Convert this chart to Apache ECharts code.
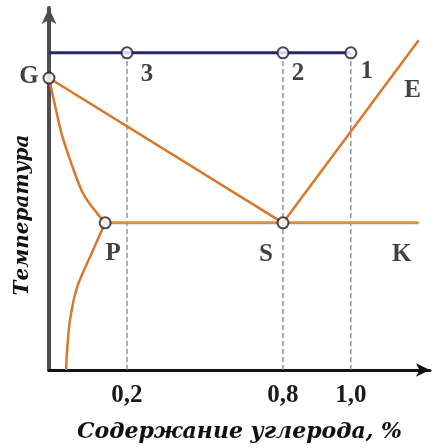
<!DOCTYPE html>
<html>
<head>
<meta charset="utf-8">
<script src="https://cdn.jsdelivr.net/npm/echarts@6/dist/echarts.min.js"></script>
<style>
  html, body { margin: 0; padding: 0; background: #fff; }
  #chart { width: 436px; height: 448px; }
</style>
</head>
<body>
<div id="chart"></div>
<script>
// Carbon content (%) and temperature (°C) of the steel corner of the Fe–C diagram
const tickCarbon = [0.2, 0.8, 1.0];

const pointNames = ['G', 'P', 'S'];
const pointCarbon = [0, 0.144, 0.8];
const pointTemp = [911, 727, 727];

const heatNames = ['3', '2', '1'];
const heatCarbon = [0.2, 0.8, 1.0];
const heatTemp = 943;

const gpCarbon = [0, 0.015, 0.033, 0.059, 0.090, 0.144];
const gpTemp = [911, 877, 839, 800, 762, 727];
const pqCarbon = [0.144, 0.110, 0.072, 0.054, 0.046, 0.044];
const pqTemp = [727, 689, 645, 604, 562, 540];
const gsCarbon = [0, 0.8];
const gsTemp = [911, 727];
const seCarbon = [0.8, 1.2];
const seTemp = [727, 959];
const pkCarbon = [0.144, 1.2];
const pkTemp = [727, 727];

const tempMin = 540;
const tempMax = 1000;

// The carbon axis is schematic: stretched piecewise between these breakpoints
const scaleCarbon = [0, 0.2, 0.8, 1.0];
const scaleUnits = [0, 1, 3, 3.87];
const axisMaxUnits = 4.885;

function segIndex(arr, v) {
  for (let i = 0; i < arr.length - 2; i++) if (v <= arr[i + 1]) return i;
  return arr.length - 2;
}
function toAxis(c) {
  const i = segIndex(scaleCarbon, c);
  const t = (c - scaleCarbon[i]) / (scaleCarbon[i + 1] - scaleCarbon[i]);
  return scaleUnits[i] + t * (scaleUnits[i + 1] - scaleUnits[i]);
}
function fromAxis(u) {
  const i = segIndex(scaleUnits, u);
  const t = (u - scaleUnits[i]) / (scaleUnits[i + 1] - scaleUnits[i]);
  return scaleCarbon[i] + t * (scaleCarbon[i + 1] - scaleCarbon[i]);
}
const pts = (cs, ts) => cs.map((c, i) => [toAxis(c), Array.isArray(ts) ? ts[i] : ts]);

const ORANGE = '#d9772b';
const NAVY = '#232a6b';
const letterFont = { fontFamily: 'Liberation Serif', fontWeight: 'bold', fontSize: 25, color: '#111' };

function curve(data, extra) {
  return Object.assign({
    type: 'line', data, symbol: 'none', smooth: false, silent: true,
    lineStyle: { color: ORANGE, width: 2.5 }, z: 3
  }, extra || {});
}

function marker(name, c, t, off) {
  return {
    value: [toAxis(c), t],
    label: Object.assign({ show: true, formatter: name, position: 'inside', offset: off }, letterFont)
  };
}

const series = [];

// dashed verticals from the heating line down to the carbon axis
tickCarbon.forEach(c => {
  series.push({
    type: 'line', silent: true, symbol: 'none', z: 2,
    data: [[toAxis(c), tempMin], [toAxis(c), heatTemp]],
    lineStyle: { color: '#7a7a7a', width: 1.2, type: [5, 3] }
  });
});

series.push(curve(pts(gpCarbon, gpTemp), { smooth: 0.3 }));
series.push(curve(pts(pqCarbon, pqTemp), { smooth: 0.3 }));
series.push(curve(pts(gsCarbon, gsTemp)));
series.push(curve(pts(seCarbon, seTemp)));
series.push(curve(pts(pkCarbon, pkTemp), { lineStyle: { color: '#d98f3e', width: 3 } }));

// heating line with points 3, 2, 1
series.push({
  type: 'line', silent: true, symbol: 'none', z: 4,
  data: [[toAxis(0), heatTemp], [toAxis(heatCarbon[heatCarbon.length - 1]), heatTemp]],
  lineStyle: { color: NAVY, width: 3 }
});

const heatOffsets = [[20, 22], [15, 21], [16, 19]];
const pointOffsets = [[-20, -1], [8, 31], [-17, 32]];

series.push({
  type: 'scatter', silent: true, z: 6,
  symbol: 'circle', symbolSize: 11,
  itemStyle: { color: '#fff', borderColor: '#1c1c2e', borderWidth: 2 },
  data: heatNames.map((n, i) => marker(n, heatCarbon[i], heatTemp, heatOffsets[i]))
    .concat(pointNames.map((n, i) => marker(n, pointCarbon[i], pointTemp[i], pointOffsets[i])))
});

// names of the line ends E and K
series.push({
  type: 'scatter', silent: true, z: 6, symbolSize: 0,
  data: [
    marker('E', seCarbon[1], seTemp[1], [-6, 50]),
    marker('K', pkCarbon[1], pkTemp[1], [-17, 32])
  ]
});

const chart = echarts.init(document.getElementById('chart'), null, { renderer: 'canvas' });
chart.setOption({
  animation: false,
  backgroundColor: '#fff',
  grid: { left: 49, right: 6, top: 8, bottom: 78 },
  xAxis: {
    type: 'value', min: 0, max: axisMaxUnits,
    name: 'Содержание углерода, %',
    nameLocation: 'middle', nameGap: 51,
    nameTextStyle: { fontFamily: 'DejaVu Serif', fontStyle: 'italic', fontWeight: 'bold', fontSize: 22, color: '#111' },
    axisLine: { show: true, onZero: false, lineStyle: { color: '#111', width: 3 }, symbol: ['none', 'arrow'], symbolSize: [10, 14] },
    axisTick: { show: false },
    splitLine: { show: false },
    axisLabel: {
      customValues: tickCarbon.map(toAxis),
      margin: 13,
      fontFamily: 'Liberation Serif', fontWeight: 'bold', fontSize: 25, color: '#1a1a1a',
      formatter: v => fromAxis(v).toFixed(1).replace('.', ',')
    }
  },
  yAxis: {
    type: 'value', min: tempMin, max: tempMax,
    name: 'Температура',
    nameLocation: 'middle', nameGap: 16, nameRotate: 90,
    nameTextStyle: { fontFamily: 'DejaVu Serif', fontStyle: 'italic', fontWeight: 'bold', fontSize: 20, color: '#111', padding: [0, 52, 0, 0] },
    axisLine: { show: true, onZero: false, lineStyle: { color: '#4d4d4d', width: 4 }, symbol: ['none', 'arrow'], symbolSize: [11, 16] },
    axisTick: { show: false },
    axisLabel: { show: false },
    splitLine: { show: false }
  },
  series
});
</script>
</body>
</html>
